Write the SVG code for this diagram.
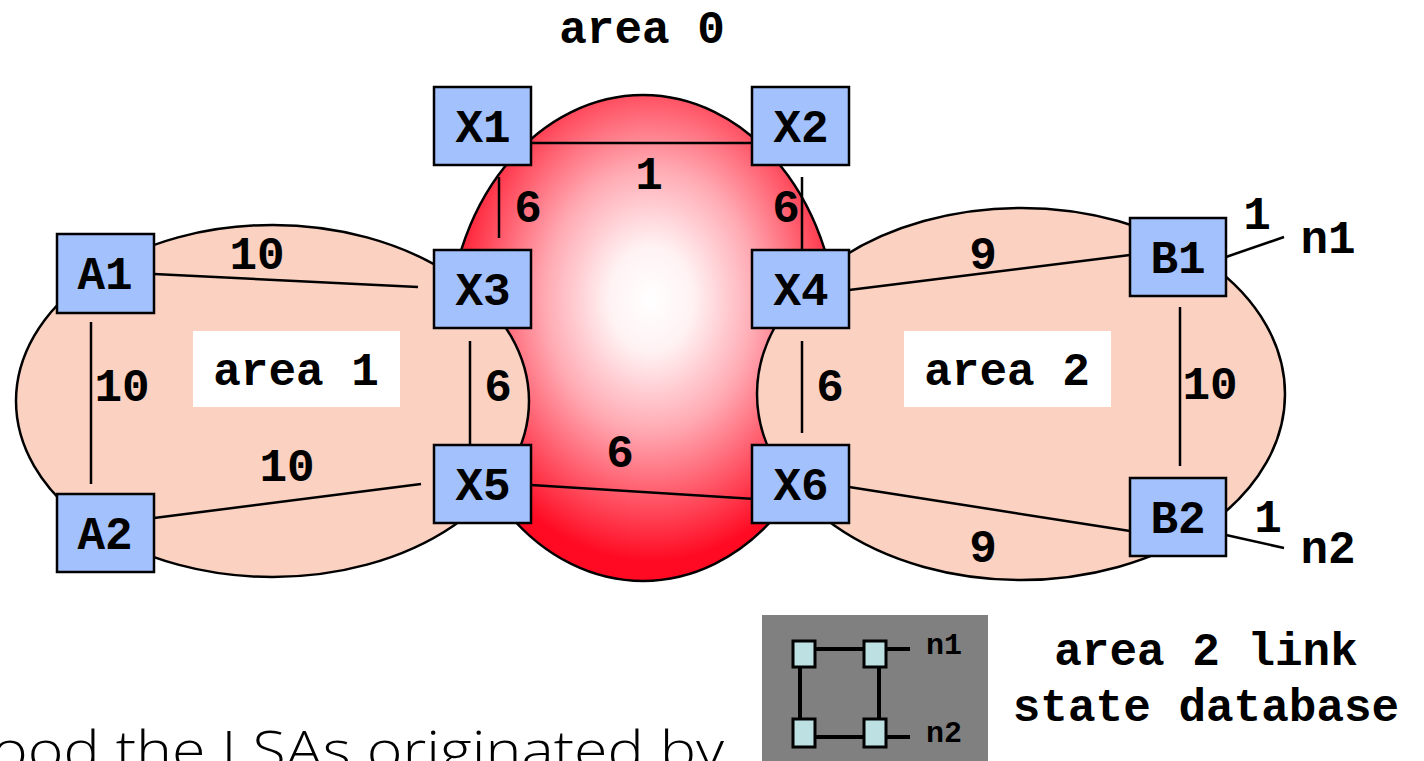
<svg xmlns="http://www.w3.org/2000/svg" width="1424" height="761" viewBox="0 0 1424 761">
<defs>
<radialGradient id="redg" cx="0.52" cy="0.42" r="0.54">
<stop offset="0" stop-color="#ffffff"/>
<stop offset="0.2" stop-color="#fff2f3"/>
<stop offset="0.5" stop-color="#ffaab3"/>
<stop offset="0.8" stop-color="#ff4a5c"/>
<stop offset="1" stop-color="#ff0a22"/>
</radialGradient>
</defs>
<style>
.area{fill:#fbd1c1;stroke:#000;stroke-width:2.5}
.node rect{fill:#a3c1fd;stroke:#000;stroke-width:2.5}
.t{font-family:"Liberation Mono","Courier New",monospace;font-weight:bold;font-size:46px;fill:#000;text-anchor:middle}
.s{font-family:"Liberation Mono","Courier New",monospace;font-weight:bold;font-size:30px;fill:#000}
.ln{stroke:#000;stroke-width:2.5;fill:none}
.lg rect{fill:#bde0e3;stroke:#000;stroke-width:3}
.lgl{stroke:#000;stroke-width:4}
</style>
<rect width="1424" height="761" fill="#fff"/>
<g id="area0">
<ellipse cx="643" cy="338" rx="195" ry="243" fill="url(#redg)" stroke="#000" stroke-width="2.5"/>
</g>
<g id="area1">
<ellipse class="area" cx="272.5" cy="401" rx="256.5" ry="176"/>
<rect x="193" y="331" width="207" height="76" fill="#fff"/>
<text class="t" x="296" y="385">area 1</text>
</g>
<g id="area2">
<ellipse class="area" cx="1021" cy="394" rx="264" ry="186"/>
<rect x="904" y="331" width="207" height="76" fill="#fff"/>
<text class="t" x="1007" y="385">area 2</text>
</g>
<text class="t" x="642" y="43">area 0</text>
<g id="connectors">
<line class="ln" x1="531" y1="143" x2="755" y2="143"/>
<line class="ln" x1="499" y1="177" x2="499" y2="238"/>
<line class="ln" x1="802" y1="177" x2="802" y2="255"/>
<line class="ln" x1="154" y1="274" x2="418" y2="287"/>
<line class="ln" x1="91" y1="322" x2="91" y2="484"/>
<line class="ln" x1="154" y1="518" x2="421" y2="484"/>
<line class="ln" x1="470" y1="341" x2="470" y2="457"/>
<line class="ln" x1="531" y1="485" x2="755" y2="499"/>
<line class="ln" x1="849" y1="290" x2="1130" y2="255"/>
<line class="ln" x1="802" y1="341" x2="802" y2="433"/>
<line class="ln" x1="849" y1="487" x2="1130" y2="531"/>
<line class="ln" x1="1180" y1="307" x2="1180" y2="466"/>
<line class="ln" x1="1226" y1="257" x2="1284" y2="237"/>
<line class="ln" x1="1226" y1="535" x2="1284" y2="548"/>
<text class="t" x="649" y="189">1</text>
<text class="t" x="528" y="222">6</text>
<text class="t" x="786" y="222">6</text>
<text class="t" x="257" y="269">10</text>
<text class="t" x="122" y="401">10</text>
<text class="t" x="498" y="401">6</text>
<text class="t" x="287" y="481">10</text>
<text class="t" x="620" y="467">6</text>
<text class="t" x="983" y="269">9</text>
<text class="t" x="830" y="401">6</text>
<text class="t" x="1210" y="399">10</text>
<text class="t" x="983" y="562">9</text>
<text class="t" x="1257" y="229">1</text>
<text class="t" x="1268" y="532">1</text>
<text class="t" x="1328" y="253">n1</text>
<text class="t" x="1328" y="563">n2</text>
</g>
<g id="X1" class="node"><rect x="434" y="87" width="97" height="78"/><text class="t" x="483" y="142">X1</text></g>
<g id="X2" class="node"><rect x="752" y="87" width="97" height="78"/><text class="t" x="801" y="142">X2</text></g>
<g id="X3" class="node"><rect x="434" y="250" width="97" height="78"/><text class="t" x="483" y="305">X3</text></g>
<g id="X4" class="node"><rect x="752" y="250" width="97" height="78"/><text class="t" x="801" y="305">X4</text></g>
<g id="X5" class="node"><rect x="434" y="445" width="97" height="78"/><text class="t" x="483" y="500">X5</text></g>
<g id="X6" class="node"><rect x="752" y="445" width="97" height="78"/><text class="t" x="801" y="500">X6</text></g>
<g id="A1" class="node"><rect x="57" y="234" width="97" height="79"/><text class="t" x="105" y="289">A1</text></g>
<g id="A2" class="node"><rect x="57" y="494" width="97" height="78"/><text class="t" x="105" y="549">A2</text></g>
<g id="B1" class="node"><rect x="1130" y="218" width="96" height="78"/><text class="t" x="1178" y="273">B1</text></g>
<g id="B2" class="node"><rect x="1130" y="478" width="96" height="78"/><text class="t" x="1178" y="533">B2</text></g>
<g id="legend">
<rect x="762" y="615" width="226" height="146" fill="#808080"/>
<g class="lg">
<line class="lgl" x1="815" y1="649" x2="864" y2="649"/>
<line class="lgl" x1="886" y1="649" x2="910" y2="649"/>
<line class="lgl" x1="815" y1="737" x2="864" y2="737"/>
<line class="lgl" x1="886" y1="737" x2="910" y2="737"/>
<line class="lgl" x1="800" y1="667" x2="800" y2="718"/>
<line class="lgl" x1="879" y1="667" x2="879" y2="718"/>
<rect x="793" y="641" width="22" height="26"/>
<rect x="864" y="641" width="22" height="26"/>
<rect x="793" y="719" width="22" height="28"/>
<rect x="864" y="719" width="22" height="28"/>
</g>
<text class="s" x="926" y="654">n1</text>
<text class="s" x="926" y="742">n2</text>
</g>
<text class="t" x="1206" y="665">area 2 link</text>
<text class="t" x="1206" y="721">state database</text>
<text x="-8" y="769" font-family="Open Sans, Lato, sans-serif" font-weight="300" font-size="54" fill="#000" textLength="732" lengthAdjust="spacingAndGlyphs">ood the LSAs originated by</text>
</svg>
